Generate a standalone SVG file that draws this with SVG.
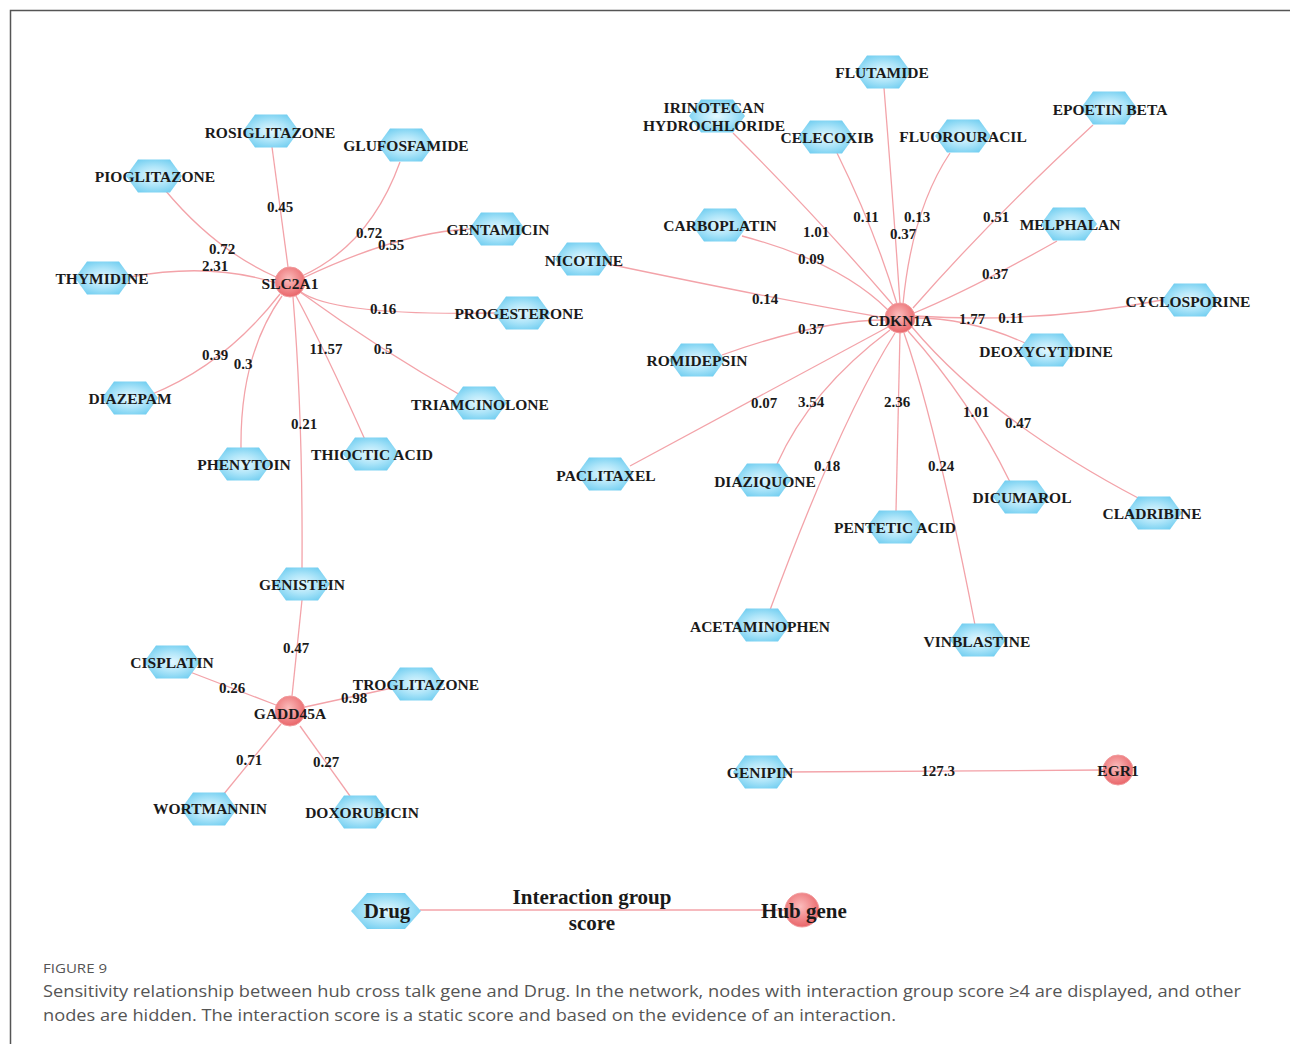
<svg xmlns="http://www.w3.org/2000/svg" xmlns:xlink="http://www.w3.org/1999/xlink" width="1290" height="1044" viewBox="0 0 1290 1044">
<defs>
<radialGradient id="gHex" cx="50%" cy="50%" r="58%">
<stop offset="0" stop-color="#e4f8ff"/>
<stop offset="0.5" stop-color="#aee5f9"/>
<stop offset="1" stop-color="#6fcdf0"/>
</radialGradient>
<radialGradient id="gHub" cx="45%" cy="40%" r="60%">
<stop offset="0" stop-color="#fbbcbc"/>
<stop offset="1" stop-color="#e9666a"/>
</radialGradient>
<polygon id="hex" points="-28,0 -16,-16.5 16,-16.5 28,0 16,16.5 -16,16.5"/>
<polygon id="hexL" points="-35,0 -19,-18 19,-18 35,0 19,18 -19,18"/>
</defs>
<style>
.edge{fill:none;stroke:#f3a3a9;stroke-width:1.3}
.hx{fill:url(#gHex)}
.hub{fill:url(#gHub);stroke:#f19a9c;stroke-width:1}
.lb{font-family:"Liberation Serif","Times New Roman",serif;font-weight:bold;font-size:15.5px;fill:#1a1a1a;text-anchor:middle;dominant-baseline:central}
.num{font-family:"Liberation Serif","Times New Roman",serif;font-weight:bold;font-size:15px;fill:#1a1a1a;text-anchor:middle;dominant-baseline:central}
.leg{font-family:"Liberation Serif","Times New Roman",serif;font-weight:bold;font-size:21px;fill:#1a1a1a;text-anchor:middle;dominant-baseline:central}
.cap{font-family:"Open Sans","Liberation Sans",sans-serif;fill:#555}
</style>
<rect x="0" y="0" width="1290" height="1044" fill="#ffffff"/>
<path d="M10.5 1044 L10.5 10.5 L1290 10.5" fill="none" stroke="#555" stroke-width="1.5"/>

<g id="connectors">
<!-- SLC2A1 -->
<path class="edge" d="M290 282 L272 147"/>
<path class="edge" d="M400 162 Q370 245 302 276"/>
<path class="edge" d="M470 229 Q400 232 303 278"/>
<path class="edge" d="M165 190 Q215 250 276 277"/>
<path class="edge" d="M130 277 Q210 262 276 283"/>
<path class="edge" d="M301 292 Q335 316 495 313"/>
<path class="edge" d="M300 292 Q380 350 462 396"/>
<path class="edge" d="M296 296 Q325 350 366 442"/>
<path class="edge" d="M282 296 Q240 355 241 448"/>
<path class="edge" d="M280 294 Q225 365 150 395"/>
<path class="edge" d="M293 297 Q303 420 302 568"/>
<!-- GADD45A -->
<path class="edge" d="M302 600 L292 696"/>
<path class="edge" d="M190 672 L276 705"/>
<path class="edge" d="M392 688 L305 707"/>
<path class="edge" d="M281 724 L223 795"/>
<path class="edge" d="M300 726 L350 796"/>
<!-- CDKN1A -->
<path class="edge" d="M884 88 Q893 200 900 303"/>
<path class="edge" d="M733 133 Q820 220 893 305"/>
<path class="edge" d="M837 153 Q875 230 897 304"/>
<path class="edge" d="M950 153 Q912 210 903 304"/>
<path class="edge" d="M1093 125 Q990 220 913 308"/>
<path class="edge" d="M1057 241 Q970 290 914 313"/>
<path class="edge" d="M915 316 Q1040 324 1162 300"/>
<path class="edge" d="M914 318 Q970 318 1025 343"/>
<path class="edge" d="M742 236 Q840 262 888 310"/>
<path class="edge" d="M608 264 Q780 300 886 318"/>
<path class="edge" d="M722 355 Q820 320 886 320"/>
<path class="edge" d="M630 466 Q790 380 888 327"/>
<path class="edge" d="M777 464 Q810 390 890 330"/>
<path class="edge" d="M770 610 Q840 420 895 333"/>
<path class="edge" d="M900 333 L896 511"/>
<path class="edge" d="M904 333 Q935 420 975 625"/>
<path class="edge" d="M908 331 Q970 400 1010 482"/>
<path class="edge" d="M912 327 Q990 420 1140 499"/>
<!-- EGR1 -->
<path class="edge" d="M785 772 L1103 770"/>
<!-- legend -->
<path class="edge" d="M420 910 L787 910"/>
</g>

<g id="edge-labels">
<text class="num" x="280" y="207">0.45</text>
<text class="num" x="369" y="233">0.72</text>
<text class="num" x="391" y="245">0.55</text>
<text class="num" x="222" y="249">0.72</text>
<text class="num" x="215" y="266">2.31</text>
<text class="num" x="383" y="309">0.16</text>
<text class="num" x="383" y="349">0.5</text>
<text class="num" x="326" y="349">11.57</text>
<text class="num" x="243" y="364">0.3</text>
<text class="num" x="215" y="355">0.39</text>
<text class="num" x="304" y="424">0.21</text>
<text class="num" x="296" y="648">0.47</text>
<text class="num" x="232" y="688">0.26</text>
<text class="num" x="354" y="698">0.98</text>
<text class="num" x="249" y="760">0.71</text>
<text class="num" x="326" y="762">0.27</text>
<text class="num" x="816" y="232">1.01</text>
<text class="num" x="866" y="217">0.11</text>
<text class="num" x="917" y="217">0.13</text>
<text class="num" x="903" y="234">0.37</text>
<text class="num" x="996" y="217">0.51</text>
<text class="num" x="811" y="259">0.09</text>
<text class="num" x="995" y="274">0.37</text>
<text class="num" x="765" y="299">0.14</text>
<text class="num" x="811" y="329">0.37</text>
<text class="num" x="972" y="319">1.77</text>
<text class="num" x="1011" y="318">0.11</text>
<text class="num" x="764" y="403">0.07</text>
<text class="num" x="811" y="402">3.54</text>
<text class="num" x="827" y="466">0.18</text>
<text class="num" x="897" y="402">2.36</text>
<text class="num" x="941" y="466">0.24</text>
<text class="num" x="976" y="412">1.01</text>
<text class="num" x="1018" y="423">0.47</text>
<text class="num" x="938" y="771">127.3</text>
</g>

<!-- hub genes -->
<g id="n-SLC2A1"><circle class="hub" cx="290" cy="282" r="15"/><text class="lb" x="290" y="283">SLC2A1</text></g>
<g id="n-GADD45A"><circle class="hub" cx="290" cy="711" r="15"/><text class="lb" x="290" y="713">GADD45A</text></g>
<g id="n-CDKN1A"><circle class="hub" cx="900" cy="318" r="15"/><text class="lb" x="900" y="320">CDKN1A</text></g>
<g id="n-EGR1"><circle class="hub" cx="1118" cy="770" r="15"/><text class="lb" x="1118" y="770">EGR1</text></g>

<!-- drugs SLC2A1 -->
<g id="n-ROSIGLITAZONE"><use href="#hex" class="hx" x="271" y="131"/><text class="lb" x="270" y="132">ROSIGLITAZONE</text></g>
<g id="n-GLUFOSFAMIDE"><use href="#hex" class="hx" x="406" y="145"/><text class="lb" x="406" y="145">GLUFOSFAMIDE</text></g>
<g id="n-PIOGLITAZONE"><use href="#hex" class="hx" x="154" y="176"/><text class="lb" x="155" y="176">PIOGLITAZONE</text></g>
<g id="n-THYMIDINE"><use href="#hex" class="hx" x="103" y="278"/><text class="lb" x="102" y="278">THYMIDINE</text></g>
<g id="n-GENTAMICIN"><use href="#hex" class="hx" x="497" y="229"/><text class="lb" x="498" y="229">GENTAMICIN</text></g>
<g id="n-PROGESTERONE"><use href="#hex" class="hx" x="522" y="313"/><text class="lb" x="519" y="313">PROGESTERONE</text></g>
<g id="n-TRIAMCINOLONE"><use href="#hex" class="hx" x="479" y="403"/><text class="lb" x="480" y="404">TRIAMCINOLONE</text></g>
<g id="n-DIAZEPAM"><use href="#hex" class="hx" x="130" y="398"/><text class="lb" x="130" y="398">DIAZEPAM</text></g>
<g id="n-PHENYTOIN"><use href="#hex" class="hx" x="243" y="464"/><text class="lb" x="244" y="464">PHENYTOIN</text></g>
<g id="n-THIOCTIC-ACID"><use href="#hex" class="hx" x="371" y="454"/><text class="lb" x="372" y="454">THIOCTIC ACID</text></g>
<g id="n-GENISTEIN"><use href="#hex" class="hx" x="302" y="584"/><text class="lb" x="302" y="584">GENISTEIN</text></g>

<!-- drugs GADD45A -->
<g id="n-CISPLATIN"><use href="#hex" class="hx" x="172" y="662"/><text class="lb" x="172" y="662">CISPLATIN</text></g>
<g id="n-TROGLITAZONE"><use href="#hex" class="hx" x="416" y="684"/><text class="lb" x="416" y="684">TROGLITAZONE</text></g>
<g id="n-WORTMANNIN"><use href="#hex" class="hx" x="209" y="809"/><text class="lb" x="210" y="808">WORTMANNIN</text></g>
<g id="n-DOXORUBICIN"><use href="#hex" class="hx" x="360" y="812"/><text class="lb" x="362" y="812">DOXORUBICIN</text></g>

<!-- drugs CDKN1A -->
<g id="n-FLUTAMIDE"><use href="#hex" class="hx" x="883" y="72"/><text class="lb" x="882" y="72">FLUTAMIDE</text></g>
<g id="n-IRINOTECAN"><use href="#hex" class="hx" x="717" y="116"/><text class="lb" x="714" y="107">IRINOTECAN</text><text class="lb" x="714" y="125">HYDROCHLORIDE</text></g>
<g id="n-CELECOXIB"><use href="#hex" class="hx" x="826" y="137"/><text class="lb" x="827" y="137">CELECOXIB</text></g>
<g id="n-FLUOROURACIL"><use href="#hex" class="hx" x="963" y="136"/><text class="lb" x="963" y="136">FLUOROURACIL</text></g>
<g id="n-EPOETIN-BETA"><use href="#hex" class="hx" x="1109" y="108"/><text class="lb" x="1110" y="109">EPOETIN BETA</text></g>
<g id="n-CARBOPLATIN"><use href="#hex" class="hx" x="720" y="225"/><text class="lb" x="720" y="225">CARBOPLATIN</text></g>
<g id="n-MELPHALAN"><use href="#hex" class="hx" x="1069" y="224"/><text class="lb" x="1070" y="224">MELPHALAN</text></g>
<g id="n-NICOTINE"><use href="#hex" class="hx" x="583" y="259"/><text class="lb" x="584" y="260">NICOTINE</text></g>
<g id="n-CYCLOSPORINE"><use href="#hex" class="hx" x="1190" y="300"/><text class="lb" x="1188" y="301">CYCLOSPORINE</text></g>
<g id="n-DEOXYCYTIDINE"><use href="#hex" class="hx" x="1047" y="350"/><text class="lb" x="1046" y="351">DEOXYCYTIDINE</text></g>
<g id="n-ROMIDEPSIN"><use href="#hex" class="hx" x="697" y="360"/><text class="lb" x="697" y="360">ROMIDEPSIN</text></g>
<g id="n-PACLITAXEL"><use href="#hex" class="hx" x="605" y="474"/><text class="lb" x="606" y="475">PACLITAXEL</text></g>
<g id="n-DIAZIQUONE"><use href="#hex" class="hx" x="763" y="480"/><text class="lb" x="765" y="481">DIAZIQUONE</text></g>
<g id="n-PENTETIC-ACID"><use href="#hex" class="hx" x="895" y="527"/><text class="lb" x="895" y="527">PENTETIC ACID</text></g>
<g id="n-DICUMAROL"><use href="#hex" class="hx" x="1021" y="497"/><text class="lb" x="1022" y="497">DICUMAROL</text></g>
<g id="n-CLADRIBINE"><use href="#hex" class="hx" x="1154" y="513"/><text class="lb" x="1152" y="513">CLADRIBINE</text></g>
<g id="n-ACETAMINOPHEN"><use href="#hex" class="hx" x="762" y="625"/><text class="lb" x="760" y="626">ACETAMINOPHEN</text></g>
<g id="n-VINBLASTINE"><use href="#hex" class="hx" x="978" y="640"/><text class="lb" x="977" y="641">VINBLASTINE</text></g>
<g id="n-GENIPIN"><use href="#hex" class="hx" x="761" y="772"/><text class="lb" x="760" y="772">GENIPIN</text></g>

<!-- legend -->
<g id="legend">
<use href="#hexL" class="hx" x="386" y="911"/>
<text class="leg" x="387" y="911">Drug</text>
<circle class="hub" cx="802" cy="910" r="17"/>
<text class="leg" x="804" y="911">Hub gene</text>
<text class="leg" x="592" y="897">Interaction group</text>
<text class="leg" x="592" y="923">score</text>
</g>

<!-- caption -->
<g id="caption">
<text class="cap" x="43" y="973" font-size="13" textLength="64" lengthAdjust="spacingAndGlyphs">FIGURE 9</text>
<text class="cap" x="43" y="997" font-size="17" textLength="1198" lengthAdjust="spacingAndGlyphs">Sensitivity relationship between hub cross talk gene and Drug. In the network, nodes with interaction group score ≥4 are displayed, and other</text>
<text class="cap" x="43" y="1021" font-size="17" textLength="853" lengthAdjust="spacingAndGlyphs">nodes are hidden. The interaction score is a static score and based on the evidence of an interaction.</text>
</g>
</svg>
